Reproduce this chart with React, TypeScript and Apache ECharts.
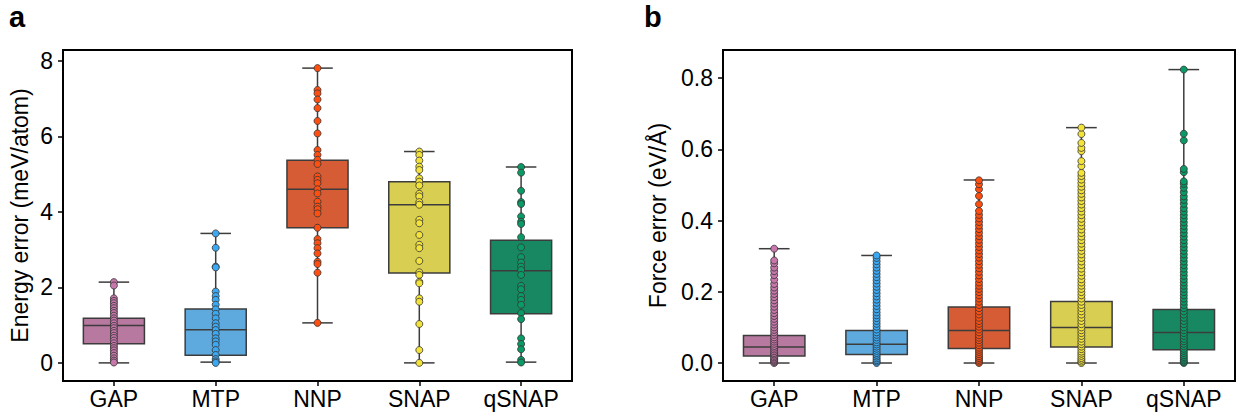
import React, { useEffect, useRef } from "react";
import * as echarts from "echarts";

const categories = ["GAP", "MTP", "NNP", "SNAP", "qSNAP"];

// Box colours (desaturated) and point colours
const boxColors = ["#b7799f", "#5eaade", "#d55c35", "#d8ce52", "#188862"];
const pointColors = ["#c777ab", "#3aa8f2", "#ff4f10", "#f3e237", "#0a9a66"];

// Panel a: energy error box statistics (meV/atom)
const energyMin = [0.0, 0.02, 1.06, 0.0, 0.02];
const energyQ1 = [0.51, 0.2, 3.58, 2.38, 1.3];
const energyMedian = [0.99, 0.88, 4.6, 4.19, 2.44];
const energyQ3 = [1.18, 1.43, 5.37, 4.8, 3.25];
const energyMax = [2.14, 3.43, 7.81, 5.6, 5.19];

// Panel a: individual points
const energyGAP = [2.14, 2.05, 1.71, 1.64, 1.58, 1.51, 1.45, 1.38, 1.32, 1.25, 1.18, 1.12, 1.05, 0.98, 0.92, 0.85, 0.79, 0.72, 0.66, 0.59, 0.52, 0.45, 0.39, 0.33, 0.26, 0.19, 0.12, 0.06, 0.01];
const energyMTP = [3.43, 3.05, 2.55, 2.53, 1.89, 1.77, 1.67, 1.54, 1.42, 1.3, 1.18, 1.05, 0.96, 0.87, 0.77, 0.65, 0.57, 0.48, 0.34, 0.21, 0.1, 0.04, 0.0];
const energyNNP = [7.81, 7.23, 7.14, 6.98, 6.75, 6.41, 6.08, 5.64, 5.51, 5.38, 5.27, 4.94, 4.85, 4.76, 4.6, 4.49, 4.27, 4.14, 4.07, 3.96, 3.58, 3.28, 3.17, 3.04, 2.9, 2.68, 2.62, 2.39, 1.06];
const energySNAP = [5.6, 5.51, 5.36, 5.2, 5.11, 4.89, 4.8, 4.7, 4.48, 4.41, 4.26, 4.19, 3.79, 3.7, 3.39, 3.13, 3.04, 2.7, 2.4, 2.33, 2.15, 2.11, 1.71, 1.62, 1.03, 0.34, 0.0];
const energyQSNAP = [5.19, 5.04, 4.56, 4.26, 4.21, 3.88, 3.74, 3.68, 3.33, 3.06, 2.8, 2.66, 2.55, 2.46, 2.33, 2.04, 1.95, 1.77, 1.67, 1.54, 1.32, 1.16, 0.65, 0.5, 0.36, 0.08, 0.01];

// Panel b: force error box statistics (eV/Å)
const forceMin = [0, 0, 0, 0, 0];
const forceQ1 = [0.02, 0.024, 0.041, 0.045, 0.037];
const forceMedian = [0.045, 0.053, 0.091, 0.1, 0.086];
const forceQ3 = [0.077, 0.091, 0.157, 0.173, 0.15];
const forceMax = [0.321, 0.302, 0.514, 0.661, 0.824];

// Panel b: individual points
const forceGAP = [0.0, 0.003, 0.006, 0.009, 0.012, 0.016, 0.02, 0.024, 0.028, 0.033, 0.038, 0.043, 0.048, 0.054, 0.06, 0.066, 0.072, 0.079, 0.086, 0.093, 0.1, 0.108, 0.116, 0.124, 0.132, 0.14, 0.149, 0.158, 0.167, 0.176, 0.185, 0.194, 0.203, 0.212, 0.222, 0.234, 0.247, 0.258, 0.268, 0.28, 0.288, 0.321];
const forceMTP = [0.0, 0.004, 0.008, 0.013, 0.018, 0.023, 0.028, 0.034, 0.04, 0.046, 0.052, 0.058, 0.065, 0.072, 0.079, 0.086, 0.094, 0.102, 0.11, 0.118, 0.126, 0.134, 0.142, 0.151, 0.16, 0.169, 0.178, 0.187, 0.196, 0.205, 0.214, 0.223, 0.232, 0.241, 0.25, 0.259, 0.268, 0.277, 0.286, 0.295, 0.302];
const forceNNP = [0.0, 0.004, 0.009, 0.014, 0.019, 0.025, 0.031, 0.037, 0.043, 0.05, 0.057, 0.064, 0.071, 0.078, 0.086, 0.094, 0.102, 0.11, 0.118, 0.127, 0.136, 0.145, 0.154, 0.163, 0.172, 0.181, 0.19, 0.199, 0.208, 0.217, 0.226, 0.236, 0.246, 0.256, 0.266, 0.276, 0.286, 0.296, 0.306, 0.316, 0.326, 0.336, 0.346, 0.356, 0.366, 0.376, 0.386, 0.396, 0.406, 0.416, 0.427, 0.446, 0.469, 0.488, 0.502, 0.513];
const forceSNAP = [0.0, 0.004, 0.009, 0.014, 0.02, 0.026, 0.032, 0.039, 0.046, 0.053, 0.06, 0.068, 0.076, 0.084, 0.092, 0.1, 0.109, 0.118, 0.127, 0.136, 0.145, 0.154, 0.163, 0.172, 0.181, 0.19, 0.199, 0.208, 0.217, 0.226, 0.235, 0.245, 0.255, 0.265, 0.275, 0.285, 0.295, 0.305, 0.315, 0.325, 0.335, 0.345, 0.355, 0.365, 0.375, 0.385, 0.395, 0.405, 0.415, 0.425, 0.435, 0.445, 0.455, 0.465, 0.475, 0.485, 0.495, 0.505, 0.515, 0.525, 0.534, 0.553, 0.567, 0.595, 0.604, 0.618, 0.643, 0.661];
const forceQSNAP = [0.0, 0.003, 0.007, 0.012, 0.017, 0.022, 0.028, 0.034, 0.04, 0.047, 0.054, 0.061, 0.068, 0.076, 0.084, 0.092, 0.1, 0.109, 0.118, 0.127, 0.136, 0.145, 0.154, 0.163, 0.172, 0.181, 0.19, 0.199, 0.208, 0.217, 0.226, 0.235, 0.245, 0.255, 0.265, 0.275, 0.285, 0.295, 0.305, 0.315, 0.325, 0.335, 0.345, 0.355, 0.365, 0.375, 0.385, 0.395, 0.405, 0.415, 0.425, 0.435, 0.447, 0.458, 0.468, 0.48, 0.492, 0.503, 0.51, 0.536, 0.545, 0.625, 0.644, 0.824];

const energyTicks = [0, 2, 4, 6, 8];
const forceTicks = [0, 0.2, 0.4, 0.6, 0.8];

const FONT = "Liberation Sans";
const FS = 23;
const EDGE = "#3c3c3c";

function boxSeries(axisIndex: number, mins: number[], q1: number[], med: number[], q3: number[], maxs: number[]) {
  return {
    type: "custom",
    xAxisIndex: axisIndex,
    yAxisIndex: axisIndex,
    z: 2,
    encode: { x: 0, y: [1, 2, 3, 4, 5] },
    data: categories.map((_, i) => [i, mins[i], q1[i], med[i], q3[i], maxs[i]]),
    renderItem: (params: any, api: any) => {
      const x = api.value(0);
      const pMin = api.coord([x, api.value(1)]);
      const pQ1 = api.coord([x, api.value(2)]);
      const pMed = api.coord([x, api.value(3)]);
      const pQ3 = api.coord([x, api.value(4)]);
      const pMax = api.coord([x, api.value(5)]);
      const band = api.size([1, 0])[0];
      const hw = band * 0.3;
      const cw = band * 0.15;
      const cx = pMin[0];
      const ls = { stroke: EDGE, lineWidth: 1.5 };
      return {
        type: "group",
        children: [
          { type: "line", shape: { x1: cx, y1: pMin[1], x2: cx, y2: pQ1[1] }, style: ls },
          { type: "line", shape: { x1: cx, y1: pQ3[1], x2: cx, y2: pMax[1] }, style: ls },
          { type: "line", shape: { x1: cx - cw, y1: pMin[1], x2: cx + cw, y2: pMin[1] }, style: ls },
          { type: "line", shape: { x1: cx - cw, y1: pMax[1], x2: cx + cw, y2: pMax[1] }, style: ls },
          {
            type: "rect",
            shape: { x: cx - hw, y: pQ3[1], width: hw * 2, height: pQ1[1] - pQ3[1] },
            style: { fill: boxColors[params.dataIndex], stroke: EDGE, lineWidth: 1.5 },
          },
          { type: "line", shape: { x1: cx - hw, y1: pMed[1], x2: cx + hw, y2: pMed[1] }, style: ls },
        ],
      };
    },
  };
}

function pointSeries(axisIndex: number, lists: number[][]) {
  return lists.map((vals, i) => ({
    type: "scatter",
    xAxisIndex: axisIndex,
    yAxisIndex: axisIndex,
    z: 5,
    symbolSize: 7,
    itemStyle: { color: pointColors[i], borderColor: "#333", borderWidth: 0.8, opacity: 1 },
    data: vals.map((v) => [i, v]),
  }));
}

function xAxisCfg(gridIndex: number) {
  return {
    type: "category",
    gridIndex,
    data: categories,
    boundaryGap: true,
    axisLine: { show: true, onZero: false, lineStyle: { color: "#000", width: 2 } },
    axisTick: { show: true, alignWithLabel: true, length: 5, lineStyle: { color: "#000", width: 1.5 } },
    axisLabel: { color: "#000", fontSize: FS, fontFamily: FONT, margin: 6 },
    splitLine: { show: false },
  };
}

function yAxisCfg(gridIndex: number, min: number, max: number, ticks: number[], name: string, nameGap: number, fmt: (v: number) => string) {
  return {
    type: "value",
    gridIndex,
    min,
    max,
    name,
    nameLocation: "middle",
    nameGap,
    nameRotate: 90,
    nameTextStyle: { color: "#000", fontSize: FS, fontFamily: FONT },
    axisLine: { show: true, onZero: false, lineStyle: { color: "#000", width: 2 } },
    axisTick: { show: true, length: 5, customValues: ticks, lineStyle: { color: "#000", width: 1.5 } },
    axisLabel: { color: "#000", fontSize: FS, fontFamily: FONT, margin: 10, customValues: ticks, formatter: fmt },
    splitLine: { show: false },
  };
}

export default function App() {
  const ref = useRef<HTMLDivElement>(null);
  useEffect(() => {
    if (!ref.current) return;
    const chart = echarts.init(ref.current, undefined, { renderer: "svg" });
    chart.setOption({
      animation: false,
      backgroundColor: "#fff",
      textStyle: { fontFamily: FONT },
      grid: [
        { left: 63, top: 50, width: 509, height: 331, show: true, borderColor: "#000", borderWidth: 2, backgroundColor: "transparent" },
        { left: 723, top: 50, width: 512, height: 331, show: true, borderColor: "#000", borderWidth: 2, backgroundColor: "transparent" },
      ],
      xAxis: [xAxisCfg(0), xAxisCfg(1)],
      yAxis: [
        yAxisCfg(0, -0.48, 8.29, energyTicks, "Energy error (meV/atom)", 32, (v: number) => String(v)),
        yAxisCfg(1, -0.0505, 0.879, forceTicks, "Force error (eV/Å)", 54, (v: number) => v.toFixed(1)),
      ],
      graphic: [
        { type: "text", left: 9, top: 2, style: { text: "a", fontSize: 29, fontWeight: "bold", fontFamily: FONT, fill: "#000" } },
        { type: "text", left: 644, top: 2, style: { text: "b", fontSize: 29, fontWeight: "bold", fontFamily: FONT, fill: "#000" } },
      ],
      series: [
        boxSeries(0, energyMin, energyQ1, energyMedian, energyQ3, energyMax),
        ...pointSeries(0, [energyGAP, energyMTP, energyNNP, energySNAP, energyQSNAP]),
        boxSeries(1, forceMin, forceQ1, forceMedian, forceQ3, forceMax),
        ...pointSeries(1, [forceGAP, forceMTP, forceNNP, forceSNAP, forceQSNAP]),
      ],
    });
    return () => chart.dispose();
  }, []);
  return <div ref={ref} style={{ position: "fixed", left: 0, top: 0, width: 1239, height: 415 }} />;
}
